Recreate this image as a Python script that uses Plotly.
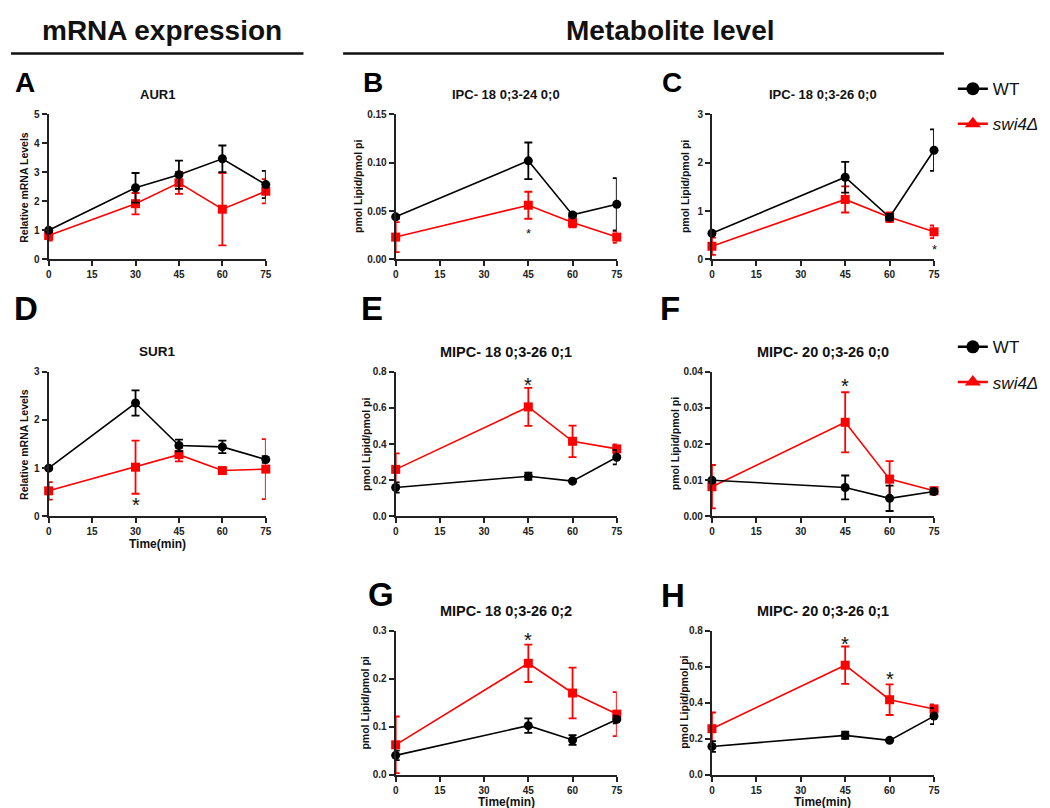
import plotly.graph_objects as go

W, H = 1050, 808

# ---------------- data ----------------
time_mrna = [0, 30, 45, 60, 75]
time_lipid = [0, 45, 60, 75]
x_ticks = [0, 15, 30, 45, 60, 75]

# A  AUR1
aur1_wt = [1.00, 2.47, 2.92, 3.47, 2.58]
aur1_wt_err = [0.05, 0.51, 0.49, 0.46, 0.47]
aur1_swi = [0.82, 1.92, 2.64, 1.73, 2.35]
aur1_swi_err = [0.17, 0.37, 0.38, 1.25, 0.42]

# B  IPC- 18 0;3-24 0;0
ipc24_wt = [0.044, 0.102, 0.046, 0.057]
ipc24_wt_err = [0.002, 0.019, 0.002, 0.027]
ipc24_swi = [0.023, 0.056, 0.038, 0.023]
ipc24_swi_err = [0.0155, 0.014, 0.005, 0.006]

# C  IPC- 18 0;3-26 0;0
ipc26_wt = [0.54, 1.70, 0.87, 2.26]
ipc26_wt_err = [0.04, 0.32, 0.06, 0.43]
ipc26_swi = [0.27, 1.24, 0.87, 0.57]
ipc26_swi_err = [0.18, 0.27, 0.10, 0.13]

# D  SUR1
sur1_wt = [1.00, 2.35, 1.47, 1.44, 1.18]
sur1_wt_err = [0.03, 0.26, 0.12, 0.13, 0.07]
sur1_swi = [0.53, 1.02, 1.28, 0.95, 0.98]
sur1_swi_err = [0.18, 0.55, 0.14, 0.03, 0.62]

# E  MIPC- 18 0;3-26 0;1
m18_1_wt = [0.160, 0.222, 0.195, 0.327]
m18_1_wt_err = [0.028, 0.020, 0.005, 0.040]
m18_1_swi = [0.260, 0.605, 0.415, 0.373]
m18_1_swi_err = [0.088, 0.105, 0.087, 0.025]

# F  MIPC- 20 0;3-26 0;0
m20_0_wt = [0.0100, 0.0080, 0.0050, 0.0069]
m20_0_wt_err = [0.0003, 0.0033, 0.0035, 0.0008]
m20_0_swi = [0.0082, 0.0260, 0.0103, 0.0071]
m20_0_swi_err = [0.0060, 0.0083, 0.0050, 0.0008]

# G  MIPC- 18 0;3-26 0;2
m18_2_wt = [0.040, 0.102, 0.072, 0.115]
m18_2_wt_err = [0.010, 0.015, 0.010, 0.008]
m18_2_swi = [0.062, 0.232, 0.170, 0.126]
m18_2_swi_err = [0.059, 0.039, 0.053, 0.046]

# H  MIPC- 20 0;3-26 0;1
m20_1_wt = [0.156, 0.218, 0.190, 0.325]
m20_1_wt_err = [0.030, 0.020, 0.005, 0.045]
m20_1_swi = [0.255, 0.608, 0.416, 0.365]
m20_1_swi_err = [0.090, 0.104, 0.085, 0.025]

panel_letters = ["A", "B", "C", "D", "E", "F", "G", "H"]
panel_titles = ["AUR1", "IPC- 18 0;3-24 0;0", "IPC- 18 0;3-26 0;0", "SUR1",
                "MIPC- 18 0;3-26 0;1", "MIPC- 20 0;3-26 0;0",
                "MIPC- 18 0;3-26 0;2", "MIPC- 20 0;3-26 0;1"]
y_titles = ["Relative mRNA Levels", "pmol Lipid/pmol pi", "pmol Lipid/pmol pi",
            "Relative mRNA Levels", "pmol Lipid/pmol pi", "pmol Lipid/pmol pi",
            "pmol Lipid/pmol pi", "pmol Lipid/pmol pi"]
y_max = [5, 0.15, 3, 3, 0.8, 0.04, 0.3, 0.8]
y_step = [1, 0.05, 1, 1, 0.2, 0.01, 0.1, 0.2]
y_fmt = ["d", ".2f", "d", "d", ".1f", ".2f", ".1f", ".1f"]
show_xtitle = [False, False, False, True, False, False, True, True]
section_titles = ["mRNA expression", "Metabolite level"]

# significance stars: (panel index, x, y, size)
stars = [(1, 45, 0.030, 13), (2, 75, 0.27, 13), (3, 30, 0.33, 20),
         (4, 45, 0.755, 20), (5, 45, 0.0375, 20), (6, 45, 0.29, 20),
         (7, 45, 0.755, 20), (7, 60, 0.558, 20)]

series = [
    (time_mrna, aur1_wt, aur1_wt_err, aur1_swi, aur1_swi_err),
    (time_lipid, ipc24_wt, ipc24_wt_err, ipc24_swi, ipc24_swi_err),
    (time_lipid, ipc26_wt, ipc26_wt_err, ipc26_swi, ipc26_swi_err),
    (time_mrna, sur1_wt, sur1_wt_err, sur1_swi, sur1_swi_err),
    (time_lipid, m18_1_wt, m18_1_wt_err, m18_1_swi, m18_1_swi_err),
    (time_lipid, m20_0_wt, m20_0_wt_err, m20_0_swi, m20_0_swi_err),
    (time_lipid, m18_2_wt, m18_2_wt_err, m18_2_swi, m18_2_swi_err),
    (time_lipid, m20_1_wt, m20_1_wt_err, m20_1_swi, m20_1_swi_err),
]

# ---------------- layout geometry (pixels) ----------------
cols = [(38, 257), (388, 611), (707, 931)]
rows = [(102, 249), (363, 510), (626, 772)]
grid = [(0, 0), (1, 0), (2, 0), (0, 1), (1, 1), (2, 1), (1, 2), (2, 2)]
letter_pos = [(14, 70), (365, 70), (667, 70), (15, 299), (364, 299), (665, 299),
              (373, 589), (668, 590)]
letter_size = [28, 28, 28, 33, 33, 33, 33, 33]
title_size = [13, 13, 13, 13.5, 14.5, 14.5, 14.5, 14.5]
ytitle_x = [13, 350, 680, 13, 358, 670, 357, 678]
section_x = [152, 665]
section_line = [(0, 295), (335, 941)]
section_text_y = 17
section_line_y = 40

BLACK = "#000000"
RED = "#ff0000"
AX = "#222222"
FONT = "Liberation Sans, Arial, sans-serif"


def px_x(p):
    return p / W


def px_y(p):
    return 1 - p / H


fig = go.Figure()
layout = dict(
    width=W, height=H, margin=dict(l=0, r=0, t=0, b=0),
    paper_bgcolor="white", plot_bgcolor="white",
    font=dict(family=FONT, color="#111111"),
)
annotations = []

for i in range(8):
    ci, ri = grid[i]
    x0, x1 = cols[ci]
    y0, y1 = rows[ri]
    sfx = "" if i == 0 else str(i + 1)
    xa, ya = "x" + sfx, "y" + sfx
    layout["xaxis" + sfx] = dict(
        domain=[px_x(x0), px_x(x1)], anchor=ya, range=[0, 75],
        tickvals=x_ticks, ticks="outside", ticklen=5, tickwidth=2, tickcolor=AX,
        showline=True, linewidth=2, linecolor=AX, showgrid=False, zeroline=False,
        tickfont=dict(size=10, weight="bold", color="#222222", family=FONT),
    )
    n = int(round(y_max[i] / y_step[i]))
    yt = [round(k * y_step[i], 4) for k in range(n + 1)]
    layout["yaxis" + sfx] = dict(
        domain=[px_y(y1), px_y(y0)], anchor=xa, range=[0, y_max[i]],
        tickvals=yt, tickformat=y_fmt[i], ticks="outside", ticklen=5, tickwidth=2,
        tickcolor=AX, showline=True, linewidth=2, linecolor=AX, showgrid=False,
        zeroline=False, tickfont=dict(size=10, weight="bold", color="#222222", family=FONT),
    )
    t, wt, wte, sw, swe = series[i]
    fig.add_trace(go.Scatter(
        x=t, y=sw, mode="lines+markers", xaxis=xa, yaxis=ya, showlegend=False,
        line=dict(color=RED, width=1.6), cliponaxis=False,
        marker=dict(symbol="square", size=9, color=RED),
        error_y=dict(type="data", array=swe, visible=True, color=RED, thickness=1.8, width=4),
    ))
    fig.add_trace(go.Scatter(
        x=t, y=wt, mode="lines+markers", xaxis=xa, yaxis=ya, showlegend=False,
        line=dict(color=BLACK, width=1.6), cliponaxis=False,
        marker=dict(symbol="circle", size=9, color=BLACK),
        error_y=dict(type="data", array=wte, visible=True, color=BLACK, thickness=1.8, width=4),
    ))
    lx, ly = letter_pos[i]
    annotations.append(dict(text="<b>%s</b>" % panel_letters[i], x=px_x(lx), y=px_y(ly),
                            xref="paper", yref="paper", showarrow=False,
                            xanchor="center", yanchor="middle",
                            font=dict(size=letter_size[i], color="#000000", family=FONT)))
    annotations.append(dict(text="<b>%s</b>" % panel_titles[i], x=px_x((x0 + x1) / 2),
                            y=px_y(y0 - 20), xref="paper", yref="paper", showarrow=False,
                            xanchor="center", yanchor="middle",
                            font=dict(size=title_size[i], color="#111111", family=FONT)))
    annotations.append(dict(text="<b>%s</b>" % y_titles[i], x=px_x(ytitle_x[i]),
                            y=px_y((y0 + y1) / 2), xref="paper", yref="paper",
                            showarrow=False, textangle=-90, xanchor="center", yanchor="middle",
                            font=dict(size=10.5, color="#111111", family=FONT)))
    if show_xtitle[i]:
        annotations.append(dict(text="<b>Time(min)</b>", x=px_x((x0 + x1) / 2),
                                y=px_y(y1 + 28), xref="paper", yref="paper",
                                showarrow=False, xanchor="center", yanchor="middle",
                                font=dict(size=12, color="#111111", family=FONT)))

for (pi, sx, sy, ss) in stars:
    sfx = "" if pi == 0 else str(pi + 1)
    annotations.append(dict(text="*", x=sx, y=sy, xref="x" + sfx, yref="y" + sfx,
                            showarrow=False, xanchor="center", yanchor="middle",
                            yshift=-ss * 0.25,
                            font=dict(size=ss, color="#111111", family=FONT)))

# section headers with underline
shapes = []
for k in range(2):
    annotations.append(dict(text="<b>%s</b>" % section_titles[k], x=px_x(section_x[k]),
                            y=px_y(section_text_y), xref="paper", yref="paper",
                            showarrow=False, xanchor="center", yanchor="middle",
                            font=dict(size=28, color="#111111", family=FONT)))
    shapes.append(dict(type="line", xref="paper", yref="paper",
                       x0=px_x(section_line[k][0]), x1=px_x(section_line[k][1]),
                       y0=px_y(section_line_y), y1=px_y(section_line_y),
                       line=dict(color="#111111", width=2.5)))

# legends (legend-only traces)
for lg in ["legend", "legend2"]:
    fig.add_trace(go.Scatter(x=[None], y=[None], mode="lines+markers", name="WT",
                             legend=lg, legendgroup=lg + "wt",
                             line=dict(color=BLACK, width=2.5),
                             marker=dict(symbol="circle", size=13, color=BLACK)))
    fig.add_trace(go.Scatter(x=[None], y=[None], mode="lines+markers",
                             name="<i>swi4Δ</i>", legend=lg, legendgroup=lg + "sw",
                             line=dict(color=RED, width=2.5),
                             marker=dict(symbol="triangle-up", size=14, color=RED)))

leg_common = dict(xanchor="left", yanchor="top", traceorder="grouped", tracegroupgap=10,
                  bgcolor="rgba(0,0,0,0)", font=dict(size=17, color="#111111", family=FONT))
layout["legend"] = dict(x=px_x(950), y=px_y(58), **leg_common)
layout["legend2"] = dict(x=px_x(950), y=px_y(320), **leg_common)
layout["annotations"] = annotations
layout["shapes"] = shapes
layout["showlegend"] = True

fig.update_layout(**layout)
fig.write_html("out.html")
